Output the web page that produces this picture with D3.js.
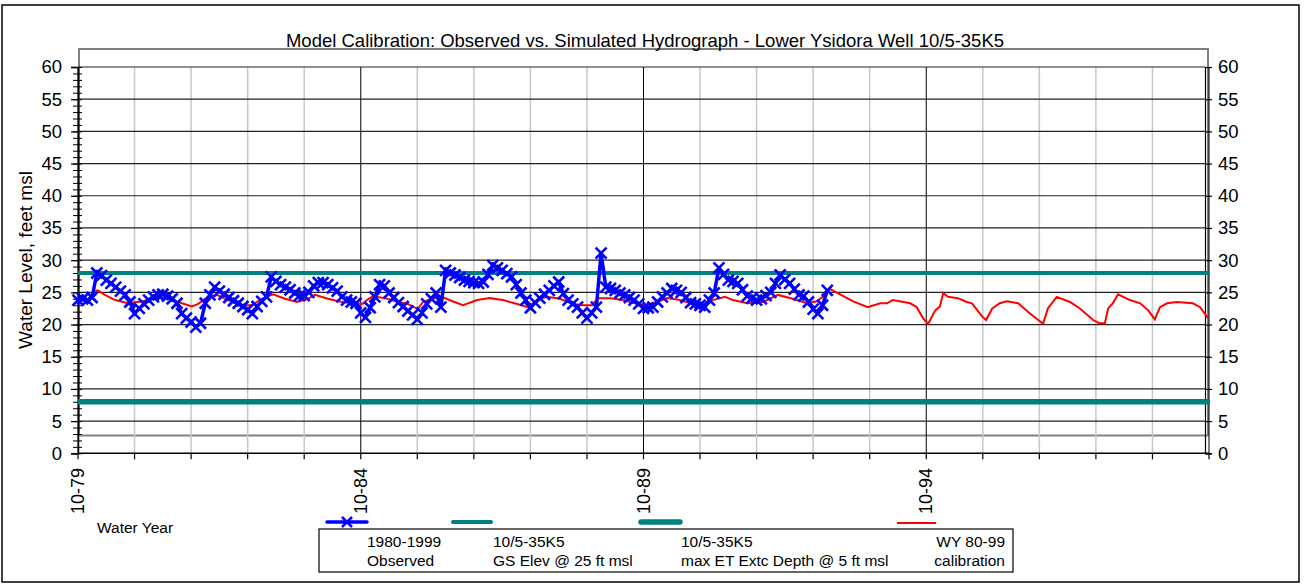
<!DOCTYPE html>
<html>
<head>
<meta charset="utf-8">
<script src="https://cdn.jsdelivr.net/npm/d3@7"></script>
<style>
  body { margin: 0; background: #fff; }
  text { font-family: Arial, "Liberation Sans", sans-serif; fill: #000; }
</style>
</head>
<body>
<svg id="chart" width="1307" height="584"></svg>
<script>
// observed levels, one reading per month starting Oct 1979
const obsLevel = [
  23.8, 24.0, 23.8, 24.2, 28.0, 27.6, 26.9, 26.4, 25.8, 25.2, 24.6, 23.5,
  21.7, 22.5, 23.2, 23.8, 24.3, 24.6, 24.7, 24.4, 24.0, 23.3, 21.7, 21.0,
  20.4, 19.6, 20.2, 23.3, 24.6, 25.8, 25.2, 24.7, 24.2, 23.7, 23.3, 22.8,
  22.3, 21.7, 22.8, 23.6, 24.3, 27.4, 26.7, 26.2, 25.8, 25.4, 24.9, 24.5,
  24.5, 25.0, 26.0, 26.5, 26.5, 26.2, 25.7, 25.2, 24.3, 23.8, 23.5, 23.3,
  21.8, 21.1, 22.6, 24.3, 26.2, 26.0, 24.9, 24.2, 23.4, 22.8, 22.1, 21.5,
  20.8, 21.8, 23.2, 24.0, 24.9, 22.7, 28.4, 28.0, 27.7, 27.3, 26.9, 26.7,
  26.5, 26.4, 26.6, 27.8, 29.2, 28.8, 28.4, 27.9, 27.4, 26.2, 24.9, 23.8,
  22.6, 23.4, 24.1, 24.7, 25.3, 26.0, 26.6, 24.8, 23.8, 23.2, 22.7, 21.8,
  21.0, 21.8, 22.7, 31.1, 25.8, 25.6, 25.3, 24.9, 24.6, 24.2, 23.8, 23.2,
  22.5, 22.6, 22.7, 23.5, 24.3, 24.9, 25.6, 25.3, 25.0, 24.2, 23.4, 23.2,
  23.0, 22.7, 23.8, 24.9, 28.8, 27.8, 26.9, 26.7, 26.4, 25.4, 24.4, 24.1,
  23.8, 24.0, 24.5, 25.0, 26.4, 27.7, 27.0, 26.4, 25.5, 24.6, 24.4, 23.5,
  22.4, 21.7, 23.0, 25.3]

// simulated (calibration) run: month from Oct 1979, level
const simMonth = [0, 2.1, 3.2, 4.2, 5.7, 7.9, 10.6, 13.6, 17, 19.1, 21.2, 24.2, 25.5, 27.6, 29.5, 31.8, 34.8, 36.9,
  39, 41.4, 43.9, 46.5, 48.8, 50.3, 53, 56, 60.3, 61.3, 62.6, 65.1, 67.9, 70, 72.1, 73.2, 75.1, 77.2, 79.2,
  81.7, 84.7, 87.4, 90.2, 93.2, 95.5, 97.4, 99.5, 102.3, 105, 107.2, 109.1, 110.3, 112.9, 115.7, 118.6, 120.3,
  122.9, 125, 127.7, 131.4, 132.6, 134.7, 137.3, 139, 142, 145.4, 148.5, 151.7, 154.7, 156.8, 158.5, 159.6,
  163.2, 164.5, 167.6, 170.2, 171.7, 172.9, 176.6, 178, 179.3, 180.4, 181.9, 182.9, 183.6, 184.6, 186.7,
  188.6, 189.7, 191.8, 192.7, 194, 195.6, 197.1, 199.5, 202, 204.8, 205.8, 207.7, 210.5, 212.6, 215.4,
  216.7, 217.9, 218.6, 219.6, 220.7, 223.2, 225.4, 227.1, 228.5, 229.6, 231.1, 233.2, 236.6, 238.1, 239.8]
const simLevel = [23.6, 23.8, 25.0, 25.3, 24.6, 23.8, 23.3, 23.6, 24.3, 24.0, 23.5, 22.8, 23.2, 24.3, 24.6, 23.8, 23.0, 23.0,
  24.0, 24.7, 24.0, 23.5, 24.0, 24.6, 24.0, 23.5, 23.2, 23.8, 24.4, 24.1, 23.5, 23.2, 22.4, 23.5, 24.0, 24.3, 23.7,
  23.0, 23.8, 24.1, 23.8, 23.2, 22.7, 23.8, 24.3, 24.0, 23.2, 23.0, 23.0, 24.1, 24.1, 23.8, 23.2, 23.0,
  23.5, 24.1, 23.8, 23.0, 23.0, 23.8, 24.3, 23.8, 23.3, 23.5, 24.6, 24.0, 23.3, 23.6, 24.6, 25.5,
  24.1, 23.6, 22.7, 23.3, 23.3, 23.8, 23.3, 22.7, 21.0, 20.1, 22.2, 22.8, 24.9, 24.3, 24.1,
  23.5, 23.3, 21.3, 20.7, 22.5, 23.3, 23.6, 23.3, 21.7, 20.1, 22.5, 24.3, 23.5, 22.5, 20.7,
  20.2, 20.2, 22.5, 23.3, 24.7, 23.8, 23.3, 22.2, 20.8, 22.7, 23.3, 23.5, 23.3, 22.7, 21.0]

const gsElev = 28      // GS elevation line
const etDepth = 8      // max ET extinction depth line
const yearTickMonths = [0, 60, 120, 180]
const yearTickLabels = ['10-79', '10-84', '10-89', '10-94']
const levelTicks = d3.range(0, 61, 5)

const svg = d3.select('#chart')
const x = d3.scaleLinear().domain([0, 240]).range([78, 1209])
const y = d3.scaleLinear().domain([0, 60]).range([453.3, 67])
const rightX = 1205
const font = 'Arial, "Liberation Sans", sans-serif'

// outer frame
svg.append('rect').attr('x', 2).attr('y', 5).attr('width', 1297).attr('height', 577)
  .attr('fill', 'none').attr('stroke', '#000').attr('stroke-width', 1.5)

// gray plot box
svg.append('rect').attr('x', 79).attr('y', 49).attr('width', 1129).attr('height', 386.5)
  .attr('fill', 'none').attr('stroke', '#808080').attr('stroke-width', 2)

// vertical grid, one per year
const years = d3.range(0, 241, 12)
svg.append('g').selectAll('line').data(years).enter().append('line')
  .attr('x1', d => x(d)).attr('x2', d => x(d))
  .attr('y1', y(60)).attr('y2', y(0))
  .attr('stroke', d => d % 60 === 0 ? '#000' : '#c8c8c8')
  .attr('stroke-width', d => d % 60 === 0 ? 1 : 1.5)

// horizontal grid
svg.append('g').selectAll('line').data(levelTicks.filter(d => d > 0)).enter().append('line')
  .attr('x1', x(0)).attr('x2', rightX)
  .attr('y1', d => y(d)).attr('y2', d => y(d))
  .attr('stroke', '#222').attr('stroke-width', 1.2)

// x axis line + year ticks
svg.append('line').attr('x1', x(0)).attr('x2', x(240)).attr('y1', y(0)).attr('y2', y(0))
  .attr('stroke', '#000').attr('stroke-width', 1.5)
svg.append('g').selectAll('line').data(years).enter().append('line')
  .attr('x1', d => x(d)).attr('x2', d => x(d))
  .attr('y1', y(0)).attr('y2', y(0) + 6)
  .attr('stroke', '#000').attr('stroke-width', 1.2)

svg.append('g').selectAll('text').data(yearTickMonths).enter().append('text')
  .attr('transform', d => `translate(${x(d) + 6},468) rotate(-90)`)
  .attr('text-anchor', 'end')
  .style('font-size', '18px')
  .text((d, i) => yearTickLabels[i])

// left axis
const leftAxis = svg.append('g').attr('transform', 'translate(78,0)')
  .call(d3.axisLeft(y).tickValues(levelTicks).tickSize(7).tickPadding(9))
leftAxis.select('.domain').attr('stroke-width', 1.5)
leftAxis.selectAll('text').style('font-size', '18.5px').style('font-family', font)
leftAxis.selectAll('line').attr('stroke-width', 1.2)

// minor ticks crossing the left axis
const minor = svg.append('g').attr('transform', 'translate(82,0)')
  .call(d3.axisLeft(y).tickValues(d3.range(0, 61, 1)).tickSize(9).tickFormat(''))
minor.select('.domain').remove()
minor.selectAll('line').attr('stroke-width', 1)

// right axis
const rightAxis = svg.append('g').attr('transform', `translate(${rightX},0)`)
  .call(d3.axisRight(y).tickValues(levelTicks).tickSize(7).tickPadding(6))
rightAxis.select('.domain').attr('stroke-width', 1.2)
rightAxis.selectAll('text').style('font-size', '18.5px').style('font-family', font)
rightAxis.selectAll('line').attr('stroke-width', 1.2)

// reference levels
svg.append('line').attr('x1', x(0)).attr('x2', x(240) + 1).attr('y1', y(gsElev)).attr('y2', y(gsElev))
  .attr('stroke', '#008080').attr('stroke-width', 4)
svg.append('line').attr('x1', x(0)).attr('x2', x(240) + 1).attr('y1', y(etDepth)).attr('y2', y(etDepth))
  .attr('stroke', '#008080').attr('stroke-width', 5.5)

// simulated
const lineGen = d3.line().x(d => x(d[0])).y(d => y(d[1]))
svg.append('path').datum(d3.zip(simMonth, simLevel))
  .attr('d', lineGen).attr('fill', 'none').attr('stroke', '#ff0000').attr('stroke-width', 2)

// observed
const obs = obsLevel.map((v, i) => [i, v])
svg.append('path').datum(obs)
  .attr('d', lineGen).attr('fill', 'none').attr('stroke', '#0000ff').attr('stroke-width', 3.5)
  .attr('stroke-linejoin', 'round')
const cross = 'M-5.5,-5.5L5.5,5.5M-5.5,5.5L5.5,-5.5'
svg.append('g').selectAll('path').data(obs).enter().append('path')
  .attr('transform', d => `translate(${x(d[0])},${y(d[1])})`)
  .attr('d', cross).attr('stroke', '#0000ff').attr('stroke-width', 2.6)

// title and axis labels
svg.append('text').attr('x', 645).attr('y', 47).attr('text-anchor', 'middle')
  .style('font-size', '18.5px')
  .text('Model Calibration: Observed vs. Simulated Hydrograph - Lower Ysidora Well 10/5-35K5')
svg.append('text').attr('transform', 'translate(32,260) rotate(-90)').attr('text-anchor', 'middle')
  .style('font-size', '19px').text('Water Level, feet msl')
svg.append('text').attr('x', 97).attr('y', 533).style('font-size', '15.5px').text('Water Year')

// legend
const legend = svg.append('g')
legend.append('rect').attr('x', 319).attr('y', 529).attr('width', 694).attr('height', 43)
  .attr('fill', 'none').attr('stroke', '#000').attr('stroke-width', 1.2)
legend.append('line').attr('x1', 327).attr('x2', 367).attr('y1', 522).attr('y2', 522)
  .attr('stroke', '#0000ff').attr('stroke-width', 3.5).attr('stroke-linecap', 'round')
legend.append('path').attr('transform', 'translate(347,522)').attr('d', 'M-5,-5L5,5M-5,5L5,-5')
  .attr('stroke', '#0000ff').attr('stroke-width', 2.5)
legend.append('line').attr('x1', 453).attr('x2', 491).attr('y1', 522).attr('y2', 522)
  .attr('stroke', '#008080').attr('stroke-width', 4).attr('stroke-linecap', 'round')
legend.append('line').attr('x1', 641).attr('x2', 680).attr('y1', 522).attr('y2', 522)
  .attr('stroke', '#008080').attr('stroke-width', 5.5).attr('stroke-linecap', 'round')
legend.append('line').attr('x1', 897).attr('x2', 936).attr('y1', 523).attr('y2', 523)
  .attr('stroke', '#ff0000').attr('stroke-width', 2)

const legendText = [
  { x: 367, anchor: 'start', lines: ['1980-1999', 'Observed'] },
  { x: 493, anchor: 'start', lines: ['10/5-35K5', 'GS Elev @ 25 ft msl'] },
  { x: 681, anchor: 'start', lines: ['10/5-35K5', 'max ET Extc Depth @ 5 ft msl'] },
  { x: 1005, anchor: 'end', lines: ['WY 80-99', 'calibration'] }
]
legendText.forEach(t => {
  t.lines.forEach((s, i) => {
    legend.append('text').attr('x', t.x).attr('y', 547 + i * 19)
      .attr('text-anchor', t.anchor).style('font-size', '15.5px').text(s)
  })
})
</script>
</body>
</html>
